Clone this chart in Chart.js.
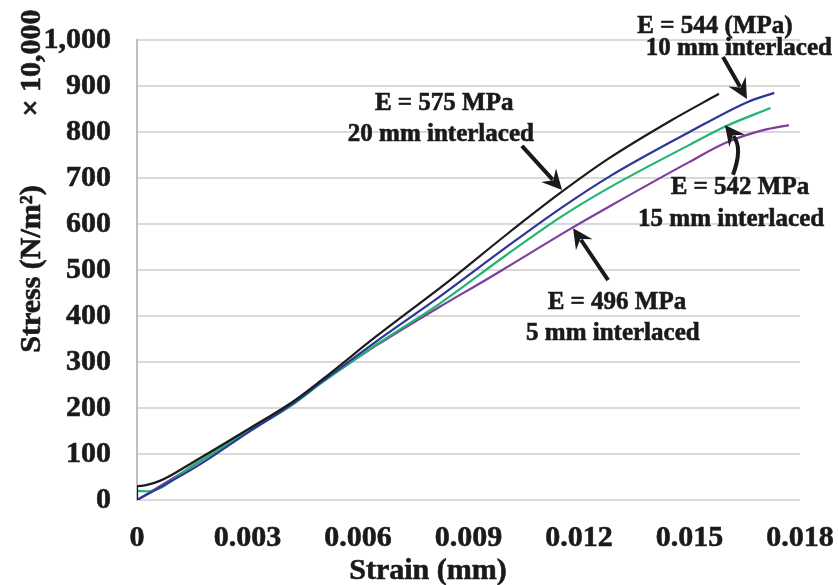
<!DOCTYPE html>
<html>
<head>
<meta charset="utf-8">
<script src="https://cdn.jsdelivr.net/npm/chart.js@4/dist/chart.umd.min.js"></script>
<style>
  body { margin: 0; background: #fff; }
  canvas { display: block; }
</style>
</head>
<body>
<canvas id="myChart" width="838" height="585"></canvas>
<script>
// tick values
const strainTicks = [0, 0.003, 0.006, 0.009, 0.012, 0.015, 0.018];
const stressTicks = [0, 100, 200, 300, 400, 500, 600, 700, 800, 900, 1000];

// 20 mm interlaced
const strain20 = [0, 0, 0.0006, 0.0016, 0.0030, 0.0042, 0.0050, 0.0065, 0.0085, 0.0100, 0.0115, 0.0128, 0.0145, 0.0158];
const stress20 = [0, 30, 41, 86, 153, 212, 260, 356, 478, 575, 668, 742, 825, 883];

// 10 mm interlaced
const strain10 = [0, 0.0016, 0.0030, 0.0042, 0.0050, 0.0065, 0.0082, 0.0100, 0.0115, 0.0128, 0.0150, 0.0166, 0.0173];
const stress10 = [0, 72, 146, 208, 256, 345, 441, 548, 634, 702, 800, 866, 885];

// 15 mm interlaced
const strain15 = [0, 0, 0.0003, 0.0016, 0.0030, 0.0042, 0.0050, 0.0065, 0.0082, 0.0100, 0.0115, 0.0128, 0.0150, 0.0160, 0.0172];
const stress15 = [0, 20, 19, 80, 148, 206, 254, 338, 426, 531, 615, 678, 772, 813, 852];

// 5 mm interlaced
const strain5 = [0, 0.0016, 0.0030, 0.0042, 0.0050, 0.0065, 0.0082, 0.0095, 0.0100, 0.0118, 0.0128, 0.0150, 0.0160, 0.0170, 0.0177];
const stress5 = [0, 78, 150, 210, 255, 336, 419, 480, 504, 591, 637, 735, 777, 804, 815];

// callouts, placed in data units (strain, stress)
const notes = [
	{ lines: ["E = 575 MPa", "20 mm interlaced"], text: [[0.00834, 848], [0.00825, 780]],
		arrow: [[0.01045, 770], [0.01154, 674]] },
	{ lines: ["E = 544 (MPa)", "10 mm interlaced"], text: [[0.01569, 1015], [0.01634, 967]],
		arrow: [[0.01591, 963], [0.01656, 872]] },
	{ lines: ["E = 542 MPa", "15 mm interlaced"], text: [[0.01637, 665], [0.01613, 596]],
		arrow: [[0.01618, 707], [0.01645, 765], [0.01596, 815]] },
	{ lines: ["E = 496 MPa", "5 mm interlaced"], text: [[0.01303, 415], [0.01292, 348]],
		arrow: [[0.01279, 478], [0.01184, 591]] },
];

const FONT = "'Liberation Serif', 'Times New Roman', serif";
const INK = "#1a1a1a";

function pts(xs, ys) {
	return xs.map((x, i) => ({ x: x, y: ys[i] }));
}

function arrowHead(ctx, fx, fy, tx, ty) {
	const a = Math.atan2(ty - fy, tx - fx);
	const len = 20, half = 10, notch = 13;
	ctx.save();
	ctx.translate(tx, ty);
	ctx.rotate(a);
	ctx.beginPath();
	ctx.moveTo(0, 0);
	ctx.lineTo(-len, -half);
	ctx.lineTo(-notch, 0);
	ctx.lineTo(-len, half);
	ctx.closePath();
	ctx.fill();
	ctx.restore();
}

// text with a thin outline so it looks as heavy as the original
function boldText(ctx, t, x, y) {
	ctx.fillText(t, x, y);
	ctx.strokeText(t, x, y);
}

const decorPlugin = {
	id: "decor",
	afterDraw(chart) {
		const ctx = chart.ctx;
		const sx = chart.scales.x, sy = chart.scales.y;
		const P = (p) => [sx.getPixelForValue(p[0]), sy.getPixelForValue(p[1])];
		const area = chart.chartArea;

		ctx.save();
		ctx.fillStyle = INK;
		ctx.strokeStyle = INK;

		// callouts
		ctx.font = "bold 25px " + FONT;
		ctx.textAlign = "center";
		ctx.textBaseline = "alphabetic";
		notes.forEach((n) => {
			ctx.lineWidth = 0.6;
			n.lines.forEach((t, i) => {
				const p = P(n.text[i]);
				boldText(ctx, t, p[0], p[1]);
			});
			const a = n.arrow.map(P);
			ctx.lineWidth = 4;
			ctx.lineCap = "butt";
			const last = a[a.length - 1];
			const prev = a[a.length - 2];
			// stop the shaft short of the tip
			const d = Math.hypot(last[0] - prev[0], last[1] - prev[1]);
			const ex = last[0] - (last[0] - prev[0]) / d * 14;
			const ey = last[1] - (last[1] - prev[1]) / d * 14;
			ctx.beginPath();
			ctx.moveTo(a[0][0], a[0][1]);
			if (a.length === 3) {
				ctx.quadraticCurveTo(a[1][0], a[1][1], ex, ey);
			} else {
				ctx.lineTo(ex, ey);
			}
			ctx.stroke();
			arrowHead(ctx, prev[0], prev[1], last[0], last[1]);
		});

		// axis titles
		ctx.font = "bold 30px " + FONT;
		ctx.textAlign = "center";
		ctx.lineWidth = 0.6;
		boldText(ctx, "Strain (mm)", area.left + 291, 579);

		ctx.translate(40, 0);
		ctx.rotate(-Math.PI / 2);
		boldText(ctx, "Stress (N/m\u00B2)", -269, 0);
		boldText(ctx, "\u00D7 10,000", -63, 0);
		ctx.restore();
	},
};

const tickFont = { family: FONT, size: 30, weight: "bold" };

const ctx = document.getElementById("myChart");
const chart = new Chart(ctx, {
	type: "line",
	data: {
		datasets: [
			{ label: "20 mm", data: pts(strain20, stress20), borderColor: "#1b1b1b" },
			{ label: "10 mm", data: pts(strain10, stress10), borderColor: "#2b3896" },
			{ label: "15 mm", data: pts(strain15, stress15), borderColor: "#22b472" },
			{ label: "5 mm", data: pts(strain5, stress5), borderColor: "#7d3f9c" },
		],
	},
	options: {
		responsive: false,
		animation: false,
		layout: { padding: { top: 40, right: 38, left: 0, bottom: 0 } },
		elements: {
			point: { radius: 0 },
			line: { borderWidth: 2.2, cubicInterpolationMode: "monotone", fill: false },
		},
		plugins: {
			legend: { display: false },
			tooltip: { enabled: false },
		},
		scales: {
			x: {
				type: "linear",
				min: 0,
				max: 0.018,
				afterBuildTicks: (s) => { s.ticks = strainTicks.map((v) => ({ value: v })); },
				afterFit: (s) => { s.height = 85; s.paddingLeft = 0; s.paddingRight = 0; },
				ticks: {
					font: tickFont,
					color: INK,
					textStrokeColor: INK,
					textStrokeWidth: 0.6,
					padding: 12,
					maxRotation: 0,
					autoSkip: false,
					callback: (v) => (v === 0 ? "0" : Number(v).toFixed(3)),
				},
				grid: { display: false },
				border: { display: false },
			},
			y: {
				type: "linear",
				min: 0,
				max: 1000,
				afterBuildTicks: (s) => { s.ticks = stressTicks.map((v) => ({ value: v })); },
				afterFit: (s) => { s.width = 137; s.paddingTop = 0; s.paddingBottom = 0; },
				ticks: {
					font: tickFont,
					color: INK,
					textStrokeColor: INK,
					textStrokeWidth: 0.6,
					padding: 26,
					callback: (v) => Number(v).toLocaleString("en-US"),
				},
				grid: { color: "#d9d9d9", lineWidth: 2, drawTicks: false },
				border: { color: "#bfbfbf", width: 2 },
			},
		},
	},
	plugins: [decorPlugin],
});
</script>
</body>
</html>
